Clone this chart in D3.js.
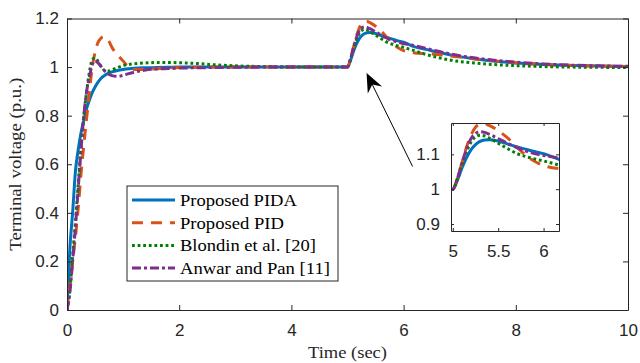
<!DOCTYPE html>
<html><head><meta charset="utf-8">
<script src="https://cdn.jsdelivr.net/npm/d3@7"></script>
<style>body{margin:0;background:#fff}svg{display:block}</style>
</head><body><svg id="c" width="640" height="363"></svg>
<script>
// ---- data ----
const time = [0,0.05,0.1,0.15,0.2,0.25,0.3,0.35,0.4,0.45,0.5,0.55,0.6,0.65,0.7,0.75,0.8,0.9,1.0,1.1,1.2,1.4,1.6,1.8,2.0,2.3,2.6,3.0,3.5,4.0,4.5,5.0,5.05,5.1,5.15,5.2,5.25,5.3,5.35,5.4,5.5,5.6,5.7,5.8,5.9,6.0,6.2,6.4,6.6,6.8,7.0,7.25,7.5,8.0,8.5,9.0,9.5,10];
const pida = [0,0.25,0.40,0.57,0.66,0.73,0.78,0.83,0.865,0.895,0.918,0.937,0.952,0.962,0.97,0.976,0.98,0.986,0.99,0.993,0.995,0.997,0.998,0.999,1,1,1,1,1,1,1,1,1.025,1.06,1.09,1.113,1.128,1.137,1.141,1.142,1.138,1.13,1.122,1.115,1.108,1.102,1.083,1.073,1.062,1.052,1.043,1.034,1.027,1.017,1.011,1.007,1.004,1.002];
const pid = [0,0.1,0.2,0.3,0.42,0.56,0.68,0.79,0.9,1.0,1.06,1.1,1.118,1.125,1.12,1.105,1.082,1.05,1.025,1.0,0.99,0.99,0.993,0.996,0.998,0.999,1,1,1,1,1,1,1.03,1.075,1.12,1.155,1.178,1.187,1.188,1.183,1.168,1.148,1.123,1.098,1.08,1.068,1.058,1.055,1.052,1.047,1.041,1.034,1.028,1.018,1.011,1.007,1.004,1.002];
const blondin = [0,0.08,0.22,0.36,0.52,0.67,0.8,0.9,0.98,1.03,1.038,1.025,1.005,0.99,0.983,0.984,0.988,0.998,1.006,1.011,1.014,1.017,1.019,1.019,1.018,1.015,1.01,1.005,1.002,1.0,1.0,1.0,1.03,1.07,1.108,1.135,1.15,1.155,1.153,1.147,1.132,1.117,1.103,1.094,1.087,1.081,1.067,1.052,1.04,1.03,1.023,1.017,1.012,1.006,1.002,1.0,0.999,0.998];
const anwar = [0,0.07,0.2,0.34,0.5,0.66,0.8,0.9,0.96,1.01,1.025,1.018,1.005,0.99,0.978,0.97,0.965,0.962,0.966,0.973,0.979,0.988,0.992,0.994,0.996,0.997,0.998,0.999,1,1,1,1,1.03,1.075,1.115,1.145,1.16,1.165,1.163,1.158,1.145,1.132,1.12,1.11,1.102,1.097,1.088,1.077,1.066,1.056,1.047,1.038,1.031,1.02,1.013,1.008,1.005,1.003];
const seriesNames = ["Proposed PIDA","Proposed PID","Blondin et al. [20]","Anwar and Pan [11]"];
const xTicks = [0,2,4,6,8,10];
const yTicks = [0,0.2,0.4,0.6,0.8,1,1.2];
const insetXTicks = [5,5.5,6];
const insetYTicks = [0.9,1,1.1];
const arrowTail = [6.16,0.591];
const arrowHead = [5.34,0.976];

// ---- styles ----
const styles = [
  {color:"#0072BD", dash:null},
  {color:"#D95319", dash:"11,8"},
  {color:"#008000", dash:"2.8,2.8"},
  {color:"#7E2F8E", dash:"9,3,3,3"}
];
const legendTextWidths = [117,104,136,150];
const allSeries = [pida,pid,blondin,anwar];
const axisColor = "#262626";
const sans = "'Liberation Sans', Arial, sans-serif";
const serif = "'Liberation Serif', 'Times New Roman', serif";

const svg = d3.select("#c");
const M = {l:67, r:628, t:18.5, b:310};
const x = d3.scaleLinear().domain([0,10]).range([M.l,M.r]);
const y = d3.scaleLinear().domain([0,1.2]).range([M.b,M.t]);

svg.append("defs").append("clipPath").attr("id","mainClip")
  .append("rect").attr("x",M.l).attr("y",M.t).attr("width",M.r-M.l).attr("height",M.b-M.t);

function drawLines(g, xs, ys, clipId, lw){
  allSeries.forEach((vals,i)=>{
    const line = d3.line().x((d,j)=>xs(time[j])).y(d=>ys(d)).curve(d3.curveMonotoneX);
    g.append("path").datum(vals).attr("d",line)
      .attr("fill","none").attr("stroke",styles[i].color).attr("stroke-width",lw)
      .attr("stroke-dasharray",styles[i].dash).attr("clip-path",`url(#${clipId})`);
  });
}

function styleAxis(g, fs){
  g.select(".domain").attr("stroke",axisColor).attr("stroke-width",1);
  g.selectAll(".tick line").attr("stroke",axisColor);
  g.selectAll("text").attr("fill",axisColor).style("font-family",sans).style("font-size",fs+"px");
}

// text placed at (tx,ty) with rotation, horizontally stretched to a target width
function fitText(parent, str, tx, ty, rot, anchor, width, fs, fill){
  const g = parent.append("g");
  const t = g.append("text").attr("x",0).attr("y",0).attr("text-anchor",anchor)
    .style("font-family",serif).style("font-size",fs+"px").attr("fill",fill).text(str);
  let w = 0;
  try { w = t.node().getComputedTextLength(); } catch(e) { w = 0; }
  const s = (w > 0) ? width / w : 1;
  g.attr("transform",`translate(${tx},${ty}) rotate(${rot}) scale(${s},1)`);
  return t;
}

// main lines
drawLines(svg.append("g"), x, y, "mainClip", 3);

// main axes
const fmt = d=>String(d);
const gx = svg.append("g").attr("transform",`translate(0,${M.b})`)
  .call(d3.axisBottom(x).tickValues(xTicks).tickFormat(fmt).tickSizeInner(-5).tickSizeOuter(0).tickPadding(14));
styleAxis(gx,17);
const gy = svg.append("g").attr("transform",`translate(${M.l},0)`)
  .call(d3.axisLeft(y).tickValues(yTicks).tickFormat(fmt).tickSizeInner(-5).tickSizeOuter(0).tickPadding(8));
styleAxis(gy,17);
const gt = svg.append("g").attr("transform",`translate(0,${M.t})`)
  .call(d3.axisTop(x).tickValues(xTicks).tickFormat("").tickSizeInner(-5).tickSizeOuter(0));
styleAxis(gt,17);
const gr = svg.append("g").attr("transform",`translate(${M.r},0)`)
  .call(d3.axisRight(y).tickValues(yTicks).tickFormat("").tickSizeInner(-5).tickSizeOuter(0));
styleAxis(gr,17);

// axis titles
fitText(svg, "Time (sec)", (M.l+M.r)/2, 358, 0, "middle", 79, 17.5, axisColor);
fitText(svg, "Terminal voltage (p.u.)", 21, (M.t+M.b)/2, -90, "middle", 173, 17, axisColor);

// legend
const L = {x:127, y:186, w:211, h:95};
const lg = svg.append("g");
lg.append("rect").attr("x",L.x).attr("y",L.y).attr("width",L.w).attr("height",L.h)
  .attr("fill","#fff").attr("stroke",axisColor).attr("stroke-width",1);
seriesNames.forEach((n,i)=>{
  const yy = L.y + 14 + i*22.7;
  lg.append("line").attr("x1",L.x+5).attr("x2",L.x+48).attr("y1",yy).attr("y2",yy)
    .attr("stroke",styles[i].color).attr("stroke-width",3).attr("stroke-dasharray",styles[i].dash);
  fitText(lg, n, L.x+53, yy+6, 0, "start", legendTextWidths[i], 17.5, "#000");
});

// arrow
const ax1 = x(arrowTail[0]), ay1 = y(arrowTail[1]);
const ax2 = x(arrowHead[0]), ay2 = y(arrowHead[1]);
const dx = ax1-ax2, dy = ay1-ay2, len = Math.hypot(dx,dy);
const ux = dx/len, uy = dy/len, px = -uy, py = ux;
svg.append("line").attr("x1",ax1).attr("y1",ay1).attr("x2",ax2+ux*12).attr("y2",ay2+uy*12)
  .attr("stroke","#000").attr("stroke-width",1);
const hl = 19, hw = 8, notch = 13;
const pts = [[ax2,ay2],[ax2+ux*hl+px*hw, ay2+uy*hl+py*hw],[ax2+ux*notch, ay2+uy*notch],[ax2+ux*hl-px*hw, ay2+uy*hl-py*hw]];
svg.append("polygon").attr("points",pts.map(p=>p.join(",")).join(" ")).attr("fill","#000");

// inset
const I = {l:451, r:559, t:123, b:231};
const xi = d3.scaleLinear().domain([4.98,6.17]).range([I.l,I.r]);
const yi = d3.scaleLinear().domain([0.88,1.19]).range([I.b,I.t]);
svg.select("defs").append("clipPath").attr("id","insetClip")
  .append("rect").attr("x",I.l).attr("y",I.t).attr("width",I.r-I.l).attr("height",I.b-I.t);
svg.append("rect").attr("x",I.l).attr("y",I.t).attr("width",I.r-I.l).attr("height",I.b-I.t).attr("fill","#fff");
drawLines(svg.append("g"), xi, yi, "insetClip", 3);
const ixb = svg.append("g").attr("transform",`translate(0,${I.b})`)
  .call(d3.axisBottom(xi).tickValues(insetXTicks).tickFormat(fmt).tickSizeInner(-3).tickSizeOuter(0).tickPadding(14));
styleAxis(ixb,17);
const iyl = svg.append("g").attr("transform",`translate(${I.l},0)`)
  .call(d3.axisLeft(yi).tickValues(insetYTicks).tickFormat(fmt).tickSizeInner(-3).tickSizeOuter(0).tickPadding(11));
styleAxis(iyl,17);
const ixt = svg.append("g").attr("transform",`translate(0,${I.t})`)
  .call(d3.axisTop(xi).tickValues(insetXTicks).tickFormat("").tickSizeInner(-3).tickSizeOuter(0));
styleAxis(ixt,17);
const iyr = svg.append("g").attr("transform",`translate(${I.r},0)`)
  .call(d3.axisRight(yi).tickValues(insetYTicks).tickFormat("").tickSizeInner(-3).tickSizeOuter(0));
styleAxis(iyr,17);
</script></body></html>
